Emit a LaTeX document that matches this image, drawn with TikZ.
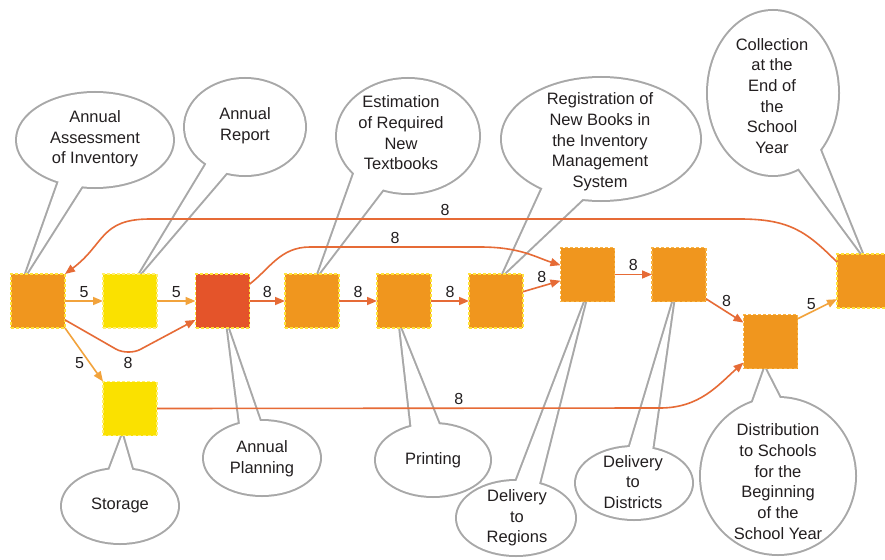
\documentclass[tikz,border=0pt]{standalone}
\usepackage{fontspec}
\setmainfont{Liberation Sans}
\usetikzlibrary{arrows.meta}

\definecolor{boxorange}{HTML}{F0961E}
\definecolor{boxyellow}{HTML}{FAE100}
\definecolor{boxred}{HTML}{E4542A}
\definecolor{dashyellow}{HTML}{FFE23A}
\definecolor{dashorange}{HTML}{F8B445}
\definecolor{dashpale}{HTML}{FFEF70}
\definecolor{linkdark}{HTML}{E66B36}
\definecolor{linklight}{HTML}{F2A33C}
\definecolor{bubblegray}{HTML}{A8A8A8}
\definecolor{ink}{HTML}{231F20}

\pgfdeclarelayer{under}
\pgfsetlayers{under,main}

\tikzset{
  stage/.style={rectangle, minimum width=54pt, minimum height=54pt,
    inner sep=0pt, outer sep=0pt, line width=1.2pt, dash pattern=on 3pt off 2pt},
  orangestage/.style={stage, fill=boxorange, draw=dashyellow},
  plainstage/.style={stage, fill=boxorange, draw=dashorange},
  yellowstage/.style={stage, fill=boxyellow, draw=dashpale},
  redstage/.style={stage, fill=boxred, draw=dashyellow},
  bubble edge/.style={draw=bubblegray, line width=4pt, line join=round},
  bubble text/.style={align=center, inner sep=0pt, text=ink,
    font=\fontsize{16.5}{20.7}\selectfont},
  link/.style={line width=1.6pt, -{Triangle[length=10pt,width=8pt]}},
  eight/.style={link, draw=linkdark},
  five/.style={link, draw=linklight},
  lbl/.style={font=\fontsize{16}{19}\selectfont, text=ink, inner sep=0pt},
}

% speech bubble: centre, radii, two base points of the pointer, pointer tip
\newcommand\bubble[5]{%
  \draw[bubble edge] #3 -- #5 -- #4 -- cycle;
  \draw[bubble edge] #1 ellipse (#2);
  \fill[white] #3 -- #5 -- #4 -- cycle;
  \fill[white] #1 ellipse (#2);
}

\begin{document}
\begin{tikzpicture}[x=1pt, y=-1pt]
\useasboundingbox (0,0) rectangle (885,559);

% process stages
\node[orangestage] (b1)  at (38,301)     {};
\node[yellowstage] (b2)  at (130,301)    {};
\node[redstage]    (b3)  at (222.5,301)  {};
\node[orangestage] (b4)  at (312,301)    {};
\node[orangestage] (b5)  at (404,301)    {};
\node[orangestage] (b6)  at (496,301)    {};
\node[plainstage]  (b7)  at (587.5,274.5){};
\node[plainstage]  (b8)  at (679,274.5)  {};
\node[plainstage]  (b9)  at (770.5,341.5){};
\node[orangestage] (b10) at (864,281)    {};
\node[yellowstage] (b11) at (130,408.5)  {};

% callouts, kept beneath the stages
\begin{pgfonlayer}{under}
\fill[white] (0,0) rectangle (885,559);

\bubble{(95,140)}{78 and 47}{(60,178)}{(87,178)}{(b1.114)}
\node[bubble text] (t1) at (95,139) {Annual\\Assessment\\of Inventory};

\bubble{(245,127)}{60 and 48}{(210,158)}{(233,165)}{(b2.70)}
\node[bubble text] (t2) at (245,126) {Annual\\Report};

\bubble{(408,136)}{71 and 57}{(356,168)}{(390,180)}{(b4.77)}
\node[bubble text] (t3) at (401,133) {Estimation\\of Required\\New\\Textbooks};

\bubble{(601,139)}{99 and 61}{(544,185)}{(592,190)}{(b6.75)}
\node[bubble text] (t4) at (600,142) {Registration of\\New Books in\\the Inventory\\Management\\System};

\bubble{(773,93)}{65 and 82}{(794,162)}{(816,140)}{(b10.94)}
\node[bubble text] (t5) at (772,96) {Collection\\at the\\End of\\the\\School\\Year};

\bubble{(120,506)}{58 and 37}{(107,476)}{(134,476)}{(b11.254)}
\node[bubble text] (t6) at (120,505) {Storage};

\bubble{(262,458)}{58 and 37}{(241,432)}{(263,430)}{(b3.281)}
\node[bubble text] (t7) at (262,459) {Annual\\Planning};

\bubble{(433,460)}{57 and 36}{(413,440)}{(442,432)}{(b5.262)}
\node[bubble text] (t8) at (433,460) {Printing};

\bubble{(516,518)}{59 and 37}{(513,490)}{(537,492)}{(b7.265)}
\node[bubble text] (t9) at (517,518) {Delivery\\to\\Regions};

\bubble{(634,483)}{58 and 36}{(627,456)}{(651,458)}{(b8.258)}
\node[bubble text] (t10) at (633,482) {Delivery\\to\\Districts};

\bubble{(778,476)}{77 and 78}{(750,410)}{(787,412)}{(b9.258)}
\node[bubble text] (t11) at (778,481.5) {Distribution\\to Schools\\for the\\Beginning\\of the\\School Year};
\end{pgfonlayer}

% flows between stages
\draw[five] (b1.east) -- node[lbl, above=3pt] {5} (b2.west);
\draw[five] (b2.east) -- node[lbl, above=3pt] {5} (b3.west);
\draw[eight] (b3.east) -- node[lbl, above=3pt] {8} (b4.west);
\draw[eight] (b4.east) -- node[lbl, above=3pt] {8} (b5.west);
\draw[eight] (b5.east) -- node[lbl, above=3pt] {8} (b6.west);
\draw[eight] (b6.19) -- node[lbl, above=3pt] {8} (b7.193);
\draw[eight] (b7.east) -- node[lbl, above=3pt] {8} (b8.west);
\draw[eight] (b8.-42) -- node[lbl, pos=.55, above=4pt] {8} (b9.145);
\draw[five] (b9.40) -- node[lbl, pos=.35, above=2pt] {5} (b10.214);
\draw[five] (b1.south east) -- node[lbl, pos=.65, left=5pt] {5} (b11.north west);
\draw[eight, rounded corners=14pt] (b1.-35) -- (128,356) node[lbl, below=1pt] {8} -- (b3.215);

\draw[eight] (b3.32) .. controls +(20,-15) and +(-30,0) .. (310,247)
  -- node[lbl, above=3pt] {8} (480,247)
  .. controls +(40,0) and +(-25,-8) .. (b7.161);

\draw[eight] (b10.145) .. controls +(-30,-30) and +(50,0) .. (740,219)
  -- node[lbl, above=3pt] {8} (150,219)
  .. controls +(-50,0) and +(40,-30) .. (b1.north east);

\draw[eight] (b11.east) -- node[lbl, pos=.6, above=3pt] {8} (660,408)
  .. controls +(40,0) and +(-25,22) .. (b9.218);
\end{tikzpicture}
\end{document}
